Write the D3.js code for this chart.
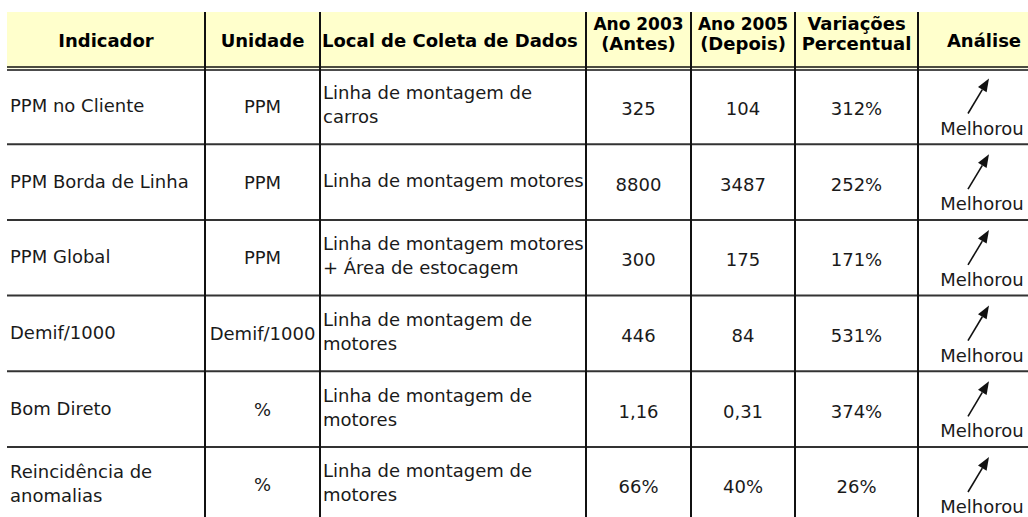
<!DOCTYPE html>
<html><head><meta charset="utf-8">
<script src="https://cdn.jsdelivr.net/npm/d3@7"></script>
<style>html,body{margin:0;padding:0;background:#fff;}svg{display:block;}</style>
</head><body>
<script>
// ---- data ----
const headers = [["Indicador"],["Unidade"],["Local de Coleta de Dados"],["Ano 2003","(Antes)"],["Ano 2005","(Depois)"],["Variações","Percentual"],["Análise"]];
const indicators = [["PPM no Cliente"],["PPM Borda de Linha"],["PPM Global"],["Demif/1000"],["Bom Direto"],["Reincidência de","anomalias"]];
const units = ["PPM","PPM","PPM","Demif/1000","%","%"];
const locations = [["Linha de montagem de","carros"],["Linha de montagem motores"],["Linha de montagem motores","+ Área de estocagem"],["Linha de montagem de","motores"],["Linha de montagem de","motores"],["Linha de montagem de","motores"]];
const before2003 = ["325","8800","300","446","1,16","66%"];
const after2005 = ["104","3487","175","84","0,31","40%"];
const variation = ["312%","252%","171%","531%","374%","26%"];
const analysis = ["Melhorou","Melhorou","Melhorou","Melhorou","Melhorou","Melhorou"];

// ---- layout ----
const W = 1028, H = 517;
const edges = [7, 205, 320, 586, 691, 795, 918, 1046];
const headTop = 12, headBot = 68.5, step = 75.7;
const nRows = indicators.length;
const y = d3.scaleLinear().domain([0, nRows]).range([headBot, headBot + step * nRows]);

const svg = d3.select("body").append("svg").attr("width", W).attr("height", H);
const bodyFont = "'DejaVu Sans', Verdana, sans-serif";

// header background
svg.append("rect").attr("x", edges[0]).attr("y", headTop).attr("width", W - edges[0]).attr("height", headBot - headTop)
  .attr("fill", "#ffffcc");

// header text
const hdr = svg.append("g").attr("font-family", bodyFont).attr("font-weight", "bold").attr("font-size", 18).attr("fill", "#000");
headers.forEach((lines, j) => {
  let x, anchor = "middle";
  if (j === 2) { x = edges[2] + 2; anchor = "start"; }
  else if (j === 6) { x = 984; }
  else x = (edges[j] + edges[j + 1]) / 2;
  const baselines = lines.length === 1 ? [47] : [30, 50];
  lines.forEach((t, k) => {
    hdr.append("text").attr("x", x).attr("y", baselines[k])
      .attr("text-anchor", anchor)
      .attr("font-size", t.startsWith("Ano") ? 17 : 18)
      .text(t);
  });
});

// body text
const body = svg.append("g").attr("font-family", bodyFont).attr("font-size", 18).attr("fill", "#1a1a1a");
function cell(lines, x, anchor, i, off) {
  const cy = (y(i) + y(i + 1)) / 2 + off;
  const lh = 24;
  lines.forEach((t, k) => {
    body.append("text").attr("x", x).attr("y", cy - (lines.length - 1) * lh / 2 + k * lh + 6.5)
      .attr("text-anchor", anchor).text(t);
  });
}
for (let i = 0; i < nRows; i++) {
  cell(indicators[i], edges[0] + 3, "start", i, -1);
  cell([units[i]], (edges[1] + edges[2]) / 2, "middle", i, 0);
  cell(locations[i], edges[2] + 3, "start", i, -2);
  cell([before2003[i]], (edges[3] + edges[4]) / 2, "middle", i, 2);
  cell([after2005[i]], (edges[4] + edges[5]) / 2, "middle", i, 2);
  cell([variation[i]], (edges[5] + edges[6]) / 2, "middle", i, 2);
  // analysis: arrow + label
  const top = y(i);
  const tail = [968, top + 45], tip = [989, top + 10];
  const dx = tip[0] - tail[0], dy = tip[1] - tail[1], L = Math.hypot(dx, dy);
  const ux = dx / L, uy = dy / L, hl = 13, hw = 5;
  const bx = tip[0] - ux * hl, by = tip[1] - uy * hl;
  body.append("line").attr("x1", tail[0]).attr("y1", tail[1]).attr("x2", bx).attr("y2", by)
    .attr("stroke", "#111").attr("stroke-width", 1.6);
  body.append("path").attr("d", `M${tip[0]},${tip[1]}L${bx - uy * hw},${by + ux * hw}L${bx + uy * hw},${by - ux * hw}Z`)
    .attr("fill", "#111");
  body.append("text").attr("x", 982).attr("y", top + 66).attr("text-anchor", "middle").text(analysis[i]);
}

// grid lines
const grid = svg.append("g").attr("stroke", "#111");
grid.append("line").attr("x1", edges[0]).attr("x2", W).attr("y1", headBot - 1.5).attr("y2", headBot - 1.5).attr("stroke-width", 1.5);
grid.append("line").attr("x1", edges[0]).attr("x2", W).attr("y1", headBot + 1.5).attr("y2", headBot + 1.5).attr("stroke-width", 1.5);
for (let i = 1; i < nRows; i++) {
  grid.append("line").attr("x1", edges[0]).attr("x2", W).attr("y1", y(i)).attr("y2", y(i)).attr("stroke-width", 2).attr("stroke", "#333");
}
for (let j = 1; j < edges.length - 1; j++) {
  grid.append("line").attr("x1", edges[j]).attr("x2", edges[j]).attr("y1", headTop).attr("y2", H).attr("stroke-width", 2);
}
</script>
</body></html>
